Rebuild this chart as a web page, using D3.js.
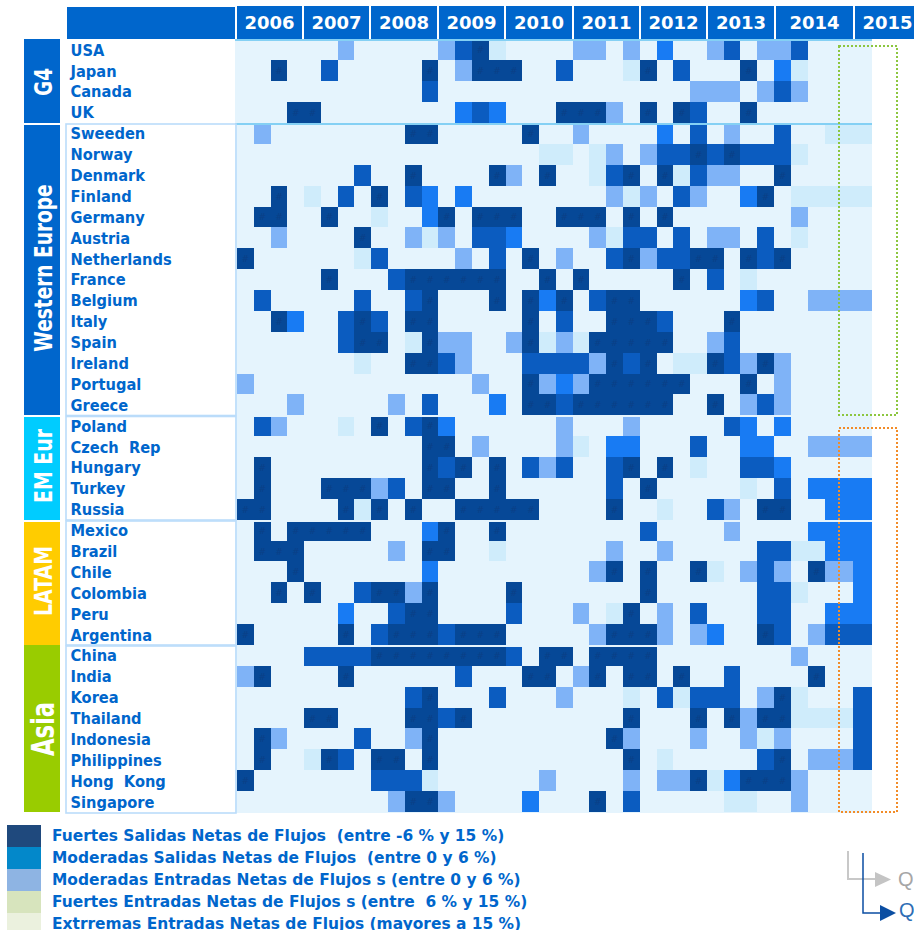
<!DOCTYPE html>
<html><head><meta charset="utf-8">
<script src="https://cdn.jsdelivr.net/npm/d3@7"></script>
<style>html,body{margin:0;padding:0;background:#fff;overflow:hidden}svg{display:block}text{font-family:"DejaVu Sans";font-weight:700;white-space:pre}</style>
</head><body><script>
const years = ["2006","2007","2008","2009","2010","2011","2012","2013","2014","2015"];
const groupNames = ["G4","Western Europe","EM Eur","LATAM","Asia"];
const groupColors = ["#0066CC","#0066CC","#00CCFF","#FFCC00","#99CC00"];
const g4 = ["USA","Japan","Canada","UK"];
const westernEurope = ["Sweeden","Norway","Denmark","Finland","Germany","Austria","Netherlands","France","Belgium","Italy","Spain","Ireland","Portugal","Greece"];
const emEur = ["Poland","Czech Rep","Hungary","Turkey","Russia"];
const latam = ["Mexico","Brazil","Chile","Colombia","Peru","Argentina"];
const asia = ["China","India","Korea","Thailand","Indonesia","Philippines","Hong Kong","Singapore"];
const countries = [...g4,...westernEurope,...emEur,...latam,...asia];
// Flow class by quarter index (0 = 2006 Q1 ... 36 = 2015 Q1); quarters not listed are class 0
const flows = {
USA:{6:2,12:2,13:4,14:5,15:1,20:2,21:2,23:2,25:3,28:2,29:4,31:2,32:2,33:4},
Japan:{2:5,5:4,11:5,13:2,14:5,15:5,16:5,19:4,23:1,24:5,26:4,30:5,32:3,33:1},
Canada:{11:4,27:2,28:2,29:2,31:2,32:4,33:2},
UK:{3:5,4:5,13:3,14:4,15:3,19:5,20:5,21:5,22:2,24:5,26:5,27:4,30:5},
Sweeden:{1:2,10:5,11:5,17:5,20:2,25:3,27:4,29:2,32:4,35:1,36:1},
Norway:{18:1,19:1,21:1,22:2,24:2,25:4,26:4,27:5,28:4,29:5,30:4,31:4,32:4,33:1},
Denmark:{7:4,10:5,15:5,16:2,18:5,21:1,22:4,23:5,25:5,26:1,27:4,28:2,29:2,32:5},
Finland:{2:5,4:1,6:4,8:5,10:4,11:3,13:3,22:2,23:1,24:2,26:4,27:2,30:3,31:5,33:1,34:1,35:1,36:1},
Germany:{1:5,2:5,5:5,8:1,11:3,12:5,14:5,15:5,16:5,19:5,20:5,21:5,23:5,25:5,33:2},
Austria:{2:2,7:5,10:2,11:1,12:2,14:4,15:4,16:3,21:2,22:1,23:4,24:4,26:4,28:2,29:2,31:4,33:1},
Netherlands:{0:5,7:1,8:4,13:2,15:4,17:5,19:2,22:4,23:5,24:2,25:4,26:4,27:5,28:5,30:5,31:4,32:5},
France:{5:5,9:4,10:5,11:5,12:5,13:5,14:5,15:5,18:5,20:5,26:5,28:4,30:1},
Belgium:{1:4,7:4,10:4,11:5,15:5,17:5,18:3,19:5,21:4,22:5,23:5,30:3,31:4,34:2,35:2,36:2},
Italy:{2:5,3:3,6:4,7:5,8:4,10:5,11:5,17:5,19:4,22:5,23:5,24:5,25:4,29:5},
Spain:{6:4,7:5,8:5,10:1,11:5,12:2,13:2,16:2,17:5,18:1,19:2,20:1,21:5,22:5,23:5,24:5,25:5,28:2,29:4},
Ireland:{7:1,10:5,11:5,12:4,13:2,17:4,18:4,19:4,20:4,21:2,22:5,23:4,24:5,26:1,27:1,28:5,29:4,30:2,31:5,32:2},
Portugal:{0:2,14:2,17:5,18:2,19:3,20:2,21:5,22:5,23:5,24:5,25:5,26:5,30:5,32:2},
Greece:{3:2,9:2,11:4,15:3,17:5,18:5,19:4,20:5,21:5,22:5,23:5,24:5,25:5,28:5,30:2,31:4,32:2},
Poland:{1:4,2:2,6:1,8:5,10:4,11:5,12:3,19:2,23:2,29:4,30:3,32:3},
"Czech Rep":{11:5,12:5,14:2,19:2,20:1,22:3,23:3,27:4,30:3,31:3,34:2,35:2,36:2},
Hungary:{1:5,11:5,12:4,13:5,15:5,17:4,18:2,19:4,22:4,23:5,25:5,27:1,30:4,31:4,32:3},
Turkey:{1:5,5:5,6:5,7:5,8:2,9:4,11:5,12:5,15:5,22:4,24:5,30:1,32:4,34:3,35:3,36:3},
Russia:{0:5,1:5,6:5,7:1,8:5,10:5,13:5,14:5,15:5,16:5,17:5,22:5,25:1,28:4,29:2,31:5,32:5,35:3,36:3},
Mexico:{1:5,3:5,4:5,5:5,6:5,7:5,11:3,12:5,15:5,24:4,29:2,34:3,35:3,36:3},
Brazil:{1:5,2:5,3:5,9:2,11:5,12:5,15:1,22:2,25:2,31:4,32:4,33:1,34:1,35:3,36:3},
Chile:{3:5,11:3,21:2,22:5,24:5,27:5,28:1,30:2,31:4,32:2,34:5,35:2,36:3},
Colombia:{2:5,4:5,7:4,8:5,9:5,10:2,11:5,16:5,24:5,31:4,32:4,33:1,36:3},
Peru:{6:3,9:4,10:5,11:5,16:4,20:2,22:1,23:5,25:2,27:4,31:4,32:4,35:3,36:3},
Argentina:{0:5,6:5,8:4,9:5,10:5,11:5,12:4,13:5,14:5,15:5,21:2,22:5,23:5,24:5,25:2,27:2,28:3,31:5,32:4,34:2,35:4,36:4},
China:{4:4,5:4,6:4,7:4,8:5,9:5,10:5,11:5,12:5,13:5,14:5,15:5,16:4,18:5,19:5,21:5,22:5,23:5,24:5,33:2},
India:{0:2,1:5,6:5,13:4,17:5,18:5,20:2,21:5,23:5,24:5,26:5,29:4,34:5},
Korea:{10:4,11:5,15:4,19:2,23:1,25:4,26:1,27:4,28:4,29:4,31:2,32:5,33:1,36:4},
Thailand:{4:5,5:5,10:5,11:5,12:4,13:5,23:5,27:5,29:5,30:2,31:5,32:5,33:1,34:1,35:1,36:4},
Indonesia:{1:5,2:2,7:4,10:2,11:5,22:5,23:2,27:2,30:2,31:1,32:2,36:4},
Philippines:{1:5,4:1,5:5,6:4,8:5,9:5,11:5,23:5,25:1,31:4,32:5,34:2,35:2,36:4},
"Hong Kong":{0:5,8:4,9:4,10:4,11:1,18:2,23:2,25:2,26:2,27:5,28:1,29:3,30:5,31:5,32:5,33:2},
Singapore:{9:2,10:5,11:5,12:2,17:3,21:5,23:4,29:1,30:1,33:2}
};
const flowColors = ["#E5F4FD","#CFECFB","#7FB3F7","#187BF3","#0B5CC0","#064897"];
const legendLabels = ["Fuertes Salidas Netas de Flujos  (entre -6 % y 15 %)","Moderadas Salidas Netas de Flujos  (entre 0 y 6 %)","Moderadas Entradas Netas de Flujos s (entre 0 y 6 %)","Fuertes Entradas Netas de Flujos s (entre  6 % y 15 %)","Extrremas Entradas Netas de Flujos (mayores a 15 %)"];
const legendColors = ["#1F497D","#0388CA","#8EB4E3","#D7E4BD","#EBF1DE"];

const W=914,H=930;
const svg=d3.select("body").append("svg").attr("width",W).attr("height",H).attr("viewBox",[0,0,W,H]);
const blue="#0066CC";

// piecewise quarter scale: the last quarter of 2014 is drawn wider in the source
const x=d3.scaleLinear().domain([0,32,35,36,37]).range([237,774,825,853,872]);
const y=d3.scaleBand().domain(countries).range([39.5,812]);
const labelY=d3.scalePoint().domain(countries).range([50,802]);
const bandTop=[39,125,417,522,645], bandBottom=[123,415,520,645,812];

// header
svg.append("rect").attr("x",67).attr("y",7).attr("width",168).attr("height",32).attr("fill",blue);
const headLeft=[237,304,371,439,506,574,641,708,776,855], headRight=[302,369,437,504,572,639,706,774,853,914];
const hg=svg.selectAll(".yr").data(years).join("g");
hg.append("rect").attr("x",(d,i)=>headLeft[i]).attr("y",6).attr("width",(d,i)=>headRight[i]-headLeft[i]).attr("height",33).attr("fill",blue);
hg.append("text").attr("x",(d,i)=>(headLeft[i]+headRight[i])/2+(i==9?3:0)).attr("y",29.3).attr("text-anchor","middle").attr("fill","#fff").attr("font-size",18).text(d=>d);

// matrix background
svg.append("rect").attr("x",235).attr("y",41).attr("width",637).attr("height",772).attr("fill",flowColors[0]);

// cells
const cells=[];
countries.forEach(c=>Object.entries(flows[c]).forEach(([q,v])=>cells.push({c,q:+q,v})));
svg.append("g").attr("shape-rendering","crispEdges").selectAll("rect").data(cells).join("rect")
 .attr("x",d=>Math.round(x(d.q))).attr("width",d=>Math.round(x(d.q+1))-Math.round(x(d.q)))
 .attr("y",d=>Math.round(y(d.c))).attr("height",d=>Math.round(y(d.c)+y.bandwidth())-Math.round(y(d.c)))
 .attr("fill",d=>flowColors[d.v]);
svg.append("g").selectAll("text").data(cells.filter(d=>d.v==5)).join("text")
 .attr("x",d=>(x(d.q)+x(d.q+1))/2).attr("y",d=>y(d.c)+y.bandwidth()/2+3.5)
 .attr("text-anchor","middle").attr("font-size",9).attr("fill","#0A3F86").style("font-weight",400).text("#");

// separators and group outlines
const sep=svg.append("g").attr("fill","none");
[415,520,645].forEach(yy=>sep.append("rect").attr("x",237).attr("y",yy).attr("width",635).attr("height",2).attr("fill",flowColors[0]).attr("shape-rendering","crispEdges"));
[40,124].forEach(yy=>sep.append("line").attr("x1",235).attr("x2",872).attr("y1",yy).attr("y2",yy).attr("stroke","#84D0F4").attr("stroke-width",2));
[[124,415.5],[416.5,520],[521,645],[646,813]].forEach(([a,b])=>sep.append("rect").attr("x",66).attr("y",a).attr("width",170).attr("height",b-a).attr("stroke","#BBDCFA").attr("stroke-width",1.6));

// group bars
const gb=svg.selectAll(".grp").data(groupNames).join("g");
gb.append("rect").attr("x",24).attr("width",36).attr("y",(d,i)=>bandTop[i]).attr("height",(d,i)=>bandBottom[i]-bandTop[i]).attr("fill",(d,i)=>groupColors[i]);
const grpSize=[25.6,25.6,25.6,25.6,32], grpScale=[.72,.725,.74,.74,.71], grpBase=[51.7,51.7,51.7,51.7,54], grpCenter=[82,268,466,581,729];
gb.append("text").attr("transform",(d,i)=>`translate(${grpBase[i]},${grpCenter[i]}) rotate(-90) scale(${grpScale[i]},1)`).attr("text-anchor","middle").attr("fill","#fff").attr("font-size",(d,i)=>grpSize[i]).text(d=>d);

// country labels
svg.append("g").selectAll("text").data(countries).join("text")
 .attr("transform",d=>`translate(70.5,${labelY(d)+5.7}) scale(.915,1)`).attr("fill",blue).attr("font-size",16).attr("word-spacing",5.5).text(d=>d);

// highlight boxes
svg.append("rect").attr("x",839).attr("y",46).attr("width",58).attr("height",369).attr("fill","none").attr("stroke","#8CC63F").attr("stroke-width",2).attr("stroke-dasharray","2 2");
svg.append("rect").attr("x",839).attr("y",428).attr("width",58).attr("height",384).attr("fill","none").attr("stroke","#F28C28").attr("stroke-width",2).attr("stroke-dasharray","2 2");

// legend
const legY=d3.scaleBand().domain(legendLabels).range([825,935]);
const lg=svg.selectAll(".leg").data(legendLabels).join("g");
lg.append("rect").attr("x",7).attr("width",34).attr("y",d=>legY(d)).attr("height",legY.bandwidth()).attr("fill",(d,i)=>legendColors[i]);
lg.append("text").attr("x",52).attr("y",d=>legY(d)+16).attr("fill",blue).attr("font-size",15.45).text(d=>d);

// arrows
const ar=svg.append("g").attr("fill","none");
ar.append("path").attr("d",d3.line()([[848,851],[848,879],[876,879]])).attr("stroke","#C8C8C8").attr("stroke-width",2);
ar.append("path").attr("d","M875,872L891,879.5L875,887Z").attr("fill","#C4C4C4");
ar.append("path").attr("d",d3.line()([[863,853],[863,913],[881,913]])).attr("stroke","#0B4EA2").attr("stroke-width",1.5);
ar.append("path").attr("d","M880,905L896,913L880,921Z").attr("fill","#0B4EA2");
svg.append("text").attr("x",898).attr("y",886).attr("font-size",20).style("font-family","Liberation Sans").style("font-weight",400).attr("fill","#A6A6A6").text("Q");
svg.append("text").attr("x",899).attr("y",917).attr("font-size",20).style("font-family","Liberation Sans").style("font-weight",400).attr("fill","#2E6DB4").text("Q");
</script></body></html>
